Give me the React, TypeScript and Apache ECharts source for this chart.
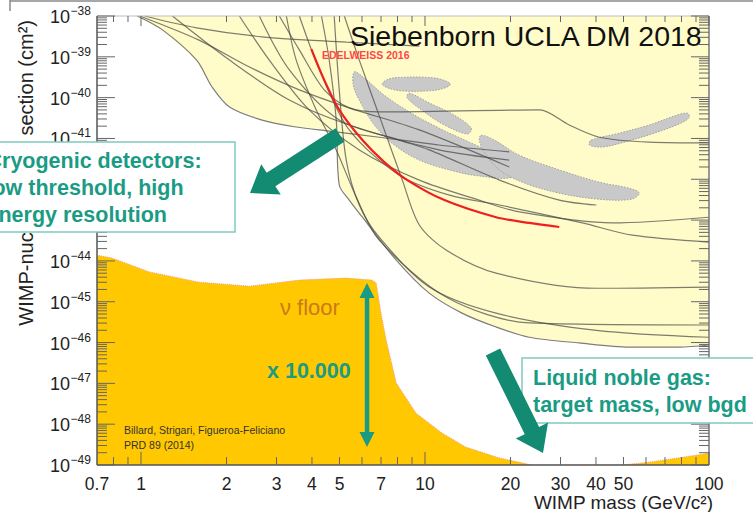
import React, { useEffect, useRef } from "react";
import * as echarts from "echarts";

const FONT = '"Liberation Sans", Arial, Helvetica, sans-serif';
const TEAL = "#1a9b84";
const TEAL_DARK = "#138a72";
const TEAL_BORDER = "#7fcabd";
const AXIS = "#555555";
const TEXT = "#222222";

// WIMP mass axis (GeV/c^2)
const massMin = 0.7;
const massMax = 100;
const massLabels = [0.7, 1, 2, 3, 4, 5, 7, 10, 20, 30, 40, 50, 100];
const massMajorTicks = [1, 10, 100];
const massMinorTicks = [0.8, 0.9, 2, 3, 4, 5, 6, 7, 8, 9, 20, 30, 40, 50, 60, 70, 80, 90];

// cross-section axis, decades of log10(sigma / cm^2)
const sigmaMinLog = -49;
const sigmaMaxLog = -38;
const sigmaDecades = [-49, -48, -47, -46, -45, -44, -43, -42, -41, -40, -39, -38];
const sigmaMinorMultipliers = [2, 3, 4, 5, 6, 7, 8, 9];

// points are [mass in GeV, log10 of cross section in cm^2]
const excludedEnvelope = [
  [0.97, -38.0], [1.19, -38.34], [1.57, -39.08], [1.78, -39.74], [2.05, -40.23],
  [2.67, -40.55], [3.52, -40.72], [4.35, -40.77], [4.87, -40.97], [4.99, -42.14],
  [5.41, -42.51], [6.02, -42.93], [6.9, -43.49], [7.92, -43.98], [10.4, -44.79],
  [13.5, -45.28], [17.8, -45.62], [23.3, -45.87], [34.9, -46.01], [52.4, -46.11],
  [78.6, -46.11], [100, -46.06],
];

const neutrinoFloor = [
  [0.7, -43.86], [0.79, -43.93], [1.07, -44.27], [1.6, -44.52], [2.41, -44.62],
  [3.61, -44.47], [5.27, -44.42], [6.5, -44.47], [6.73, -44.54], [7.0, -45.28],
  [7.3, -45.94], [7.92, -46.99], [9.3, -47.73], [11.5, -48.22], [13.9, -48.56],
  [18.3, -48.83], [23.8, -49.0], [47, -49.0], [49.3, -49.0],
  [61.7, -48.93], [81, -48.81], [100, -48.71],
];

const edelweiss2016 = [
  [3.98, -38.81], [4.42, -39.57], [4.99, -40.3], [6.02, -41.04], [7.19, -41.58],
  [8.66, -42.02], [11.7, -42.51], [17.8, -42.93], [23.3, -43.07], [29.7, -43.17],
];

const limitCurves = [
  [[1.03, -38.0], [1.57, -38.29], [2.67, -38.51], [5.28, -38.64], [9.55, -38.74]],
  [[0.97, -38.0], [1.19, -38.34], [1.57, -39.08], [1.78, -39.74], [2.05, -40.23], [2.67, -40.55],
   [3.52, -40.72], [4.6, -40.82], [6.9, -40.97], [11.2, -41.16], [19.8, -41.33]],
  [[0.99, -38.0], [1.6, -38.59], [2.41, -39.25], [3.61, -39.81], [5.41, -40.25], [9.55, -40.79], [19.8, -41.7]],
  [[3.07, -38.0], [3.61, -38.83], [4.42, -39.81], [5.41, -40.25], [6.9, -40.35], [25.3, -40.3],
   [32.2, -40.67], [41.1, -40.97], [61.6, -41.09], [100, -41.11]],
  [[3.25, -38.0], [3.52, -39.08], [4.14, -40.3], [4.87, -41.28], [5.73, -42.44], [6.9, -43.49],
   [11.9, -44.89], [23.3, -45.52], [100, -45.57]],
  [[4.32, -38.0], [4.6, -39.08], [4.87, -40.55], [4.99, -42.14], [5.41, -42.51], [6.02, -42.93],
   [7.92, -43.98], [10.35, -44.79], [13.5, -45.28], [17.8, -45.62], [23.3, -45.87], [34.9, -46.01],
   [52.4, -46.11], [78.6, -46.11], [100, -46.06]],
  [[4.79, -38.0], [4.99, -39.81], [5.28, -41.53], [5.87, -42.63], [6.9, -43.42], [10.35, -44.64],
   [17.8, -45.28], [40.1, -45.7], [100, -45.87]],
  [[5.2, -38.0], [5.87, -39.08], [7.19, -40.79], [8.32, -42.02], [9.55, -43.12], [11.9, -43.74],
   [17.8, -44.3], [40.1, -44.67], [100, -44.64]],
  [[3.61, -38.0], [4.25, -39.32], [5.41, -40.79], [8.12, -41.9], [12.2, -42.39], [18.3, -42.63],
   [35.8, -43.07], [53.7, -43.37], [100, -43.54]],
  [[2.22, -38.0], [2.83, -39.08], [3.91, -40.3], [5.87, -41.28], [9.55, -42.02], [15.5, -42.51],
   [21.5, -42.8], [45.7, -43.07], [100, -42.93]],
  [[2.61, -38.0], [3.33, -39.32], [4.99, -40.55], [8.12, -41.04], [10.35, -41.28], [18.3, -42.02],
   [29.7, -42.51], [40.1, -42.63]],
  [[1.29, -38.0], [2.05, -39.08], [3.33, -40.06], [5.41, -40.67], [11.2, -41.28], [19.8, -41.53]],
];

// closed contours of claimed signal regions
const signalRegions = [
  [[5.64, -39.37], [6.11, -39.52], [7.19, -39.94], [8.8, -40.35], [11.23, -40.75], [14.32, -41.09],
   [18.27, -41.43], [20.6, -41.65], [20.3, -41.95], [15.53, -41.92], [12.18, -41.77], [9.55, -41.53],
   [7.8, -41.16], [6.63, -40.67], [5.87, -40.06], [5.59, -39.69]],
  [[7.07, -39.67], [7.48, -39.54], [8.46, -39.5], [9.94, -39.5], [11.23, -39.54], [12.28, -39.67],
   [11.41, -39.79], [9.94, -39.84], [8.46, -39.84], [7.61, -39.79]],
  [[8.8, -39.89], [10.35, -40.13], [12.68, -40.43], [14.56, -40.75], [14.09, -40.89], [11.7, -40.67],
   [9.94, -40.35], [8.66, -40.01]],
  [[15.79, -40.92], [17.54, -41.04], [21.48, -41.41], [29.72, -41.77], [41.1, -42.07], [52.42, -42.22],
   [56.85, -42.34], [53.27, -42.49], [41.1, -42.49], [29.72, -42.34], [22.37, -42.09], [18.27, -41.77],
   [16.18, -41.33], [15.53, -41.04]],
  [[38.5, -41.04], [48.3, -40.87], [61.63, -40.67], [75.5, -40.45], [83.9, -40.38], [85.2, -40.48],
   [79.9, -40.62], [64.2, -40.87], [50.3, -41.09], [42.1, -41.21], [37.9, -41.16]],
];

function toSeriesData(list: number[][]) {
  return list.map(([m, e]) => [m, Math.pow(10, e)]);
}

function textStyle(text: string, size: number, color: string, align: string, weight = "normal") {
  return {
    text,
    fill: color,
    fontSize: size,
    fontFamily: FONT,
    fontWeight: weight,
    align,
    textAlign: align,
    verticalAlign: "middle",
    textVerticalAlign: "middle",
  };
}

function arrowPoints(tail: number[], tip: number[], shaftHalf: number, headHalf: number, headLen: number) {
  const dx = tip[0] - tail[0];
  const dy = tip[1] - tail[1];
  const len = Math.hypot(dx, dy);
  const ux = dx / len, uy = dy / len;
  const nx = -uy, ny = ux;
  const bx = tip[0] - ux * headLen, by = tip[1] - uy * headLen;
  return [
    [tail[0] + nx * shaftHalf, tail[1] + ny * shaftHalf],
    [bx + nx * shaftHalf, by + ny * shaftHalf],
    [bx + nx * headHalf, by + ny * headHalf],
    [tip[0], tip[1]],
    [bx - nx * headHalf, by - ny * headHalf],
    [bx - nx * shaftHalf, by - ny * shaftHalf],
    [tail[0] - nx * shaftHalf, tail[1] - ny * shaftHalf],
  ];
}

// filled region between a boundary curve and one edge of the plot (log10 sigma of that edge)
function filledRegionSeries(boundary: number[][], edgeLog: number, fill: string, z: number) {
  return {
    type: "custom",
    z,
    silent: true,
    data: [[boundary[0][0], Math.pow(10, boundary[0][1])]],
    renderItem: (_params: any, api: any) => {
      const first = boundary[0][0];
      const last = boundary[boundary.length - 1][0];
      const ring = [
        ...boundary,
        [last, edgeLog],
        [first, edgeLog],
      ];
      return {
        type: "polygon",
        shape: { points: ring.map(([m, e]) => api.coord([m, Math.pow(10, e)])) },
        style: { fill },
      };
    },
  };
}

export default function App() {
  const ref = useRef<HTMLDivElement>(null);

  useEffect(() => {
    const el = ref.current;
    if (!el) return;
    const chart = echarts.init(el, undefined, { renderer: "svg" });

    const axisDecor = {
      type: "custom",
      z: 6,
      silent: true,
      data: [[1, 1e-45]],
      renderItem: (params: any, api: any) => {
        const cs = params.coordSys;
        const left = cs.x, top = cs.y, right = cs.x + cs.width, bottom = cs.y + cs.height;
        const kids: any[] = [];
        const seg = (x1: number, y1: number, x2: number, y2: number, stroke = "#666", lw = 1) =>
          kids.push({ type: "line", shape: { x1, y1, x2, y2 }, style: { stroke, lineWidth: lw } });
        const label = (x: number, y: number, text: string, size: number, align: string) =>
          kids.push({ type: "text", x, y, style: textStyle(text, size, TEXT, align) });
        const xAt = (m: number) => api.coord([m, 1e-45])[0];
        const yAt = (s: number) => api.coord([1, s])[1];

        // frame
        seg(left, top, right, top, "#bdbdbd", 1);
        seg(right, top, right, bottom, "#777", 1.5);
        seg(left, top, left, bottom, AXIS, 1.5);
        seg(left, bottom, right, bottom, AXIS, 1.5);

        // mass axis ticks and labels
        for (const m of massMajorTicks) {
          const x = xAt(m);
          seg(x, bottom, x, bottom - 13);
          seg(x, top, x, top + 10);
        }
        for (const m of massMinorTicks) {
          const x = xAt(m);
          seg(x, bottom, x, bottom - 8);
          seg(x, top, x, top + 6);
        }
        for (const m of massLabels) label(xAt(m), bottom + 19, String(m), 17.5, "center");

        // cross-section axis ticks and labels
        sigmaDecades.forEach((e, i) => {
          const y = yAt(Math.pow(10, e));
          seg(left, y, left + 18, y);
          seg(right, y, right - 18, y);
          label(left - 27, y + 1, "10", 18, "right");
          label(left - 26.5, y - 5, "\u2212" + Math.abs(e), 12, "left");
          if (i < sigmaDecades.length - 1) {
            for (const k of sigmaMinorMultipliers) {
              const ym = yAt(k * Math.pow(10, e));
              seg(left, ym, left + 10, ym);
              seg(right, ym, right - 10, ym);
            }
          }
        });
        return { type: "group", children: kids };
      },
    };

    const regionsSeries = {
      type: "custom",
      z: 3,
      silent: true,
      data: signalRegions.map((r, i) => [r[0][0], Math.pow(10, r[0][1]), i]),
      renderItem: (_params: any, api: any) => {
        const region = signalRegions[api.value(2)];
        return {
          type: "polygon",
          shape: {
            points: region.map(([m, e]) => api.coord([m, Math.pow(10, e)])),
            smooth: 0.35,
          },
          style: { fill: "#c9c9c9", stroke: "#a0a0a0", lineWidth: 1, lineDash: [1.5, 1.5] },
        };
      },
    };

    const arrow1 = arrowPoints([340, 135], [250, 193], 8, 18, 25);
    const arrow2 = arrowPoints([493, 352], [543, 453], 8, 18, 25);

    const boxStyle = { fill: "#ffffff", stroke: TEAL_BORDER, lineWidth: 1.5 };

    const option: any = {
      animation: false,
      grid: { left: 97, top: 16, width: 612, height: 449, containLabel: false },
      xAxis: {
        type: "log",
        logBase: 10,
        min: massMin,
        max: massMax,
        axisLine: { show: false },
        axisTick: { show: false },
        axisLabel: { show: false },
        splitLine: { show: false },
      },
      yAxis: {
        type: "log",
        logBase: 10,
        min: Math.pow(10, sigmaMinLog),
        max: Math.pow(10, sigmaMaxLog),
        axisLine: { show: false },
        axisTick: { show: false },
        axisLabel: { show: false },
        splitLine: { show: false },
      },
      series: [
        filledRegionSeries(excludedEnvelope, sigmaMaxLog, "#fffcc9", 1),
        filledRegionSeries(neutrinoFloor, sigmaMinLog, "#ffc800", 2),
        {
          type: "line",
          name: "neutrino floor",
          data: toSeriesData(neutrinoFloor),
          symbol: "none",
          silent: true,
          lineStyle: { color: "#f2998c", width: 1, type: "dotted" },
          z: 2,
        },
        regionsSeries,
        ...limitCurves.map((c) => ({
          type: "line",
          data: toSeriesData(c),
          symbol: "none",
          silent: true,
          smooth: 0.3,
          lineStyle: { color: "rgba(70,70,70,0.7)", width: 1.2 },
          z: 4,
        })),
        {
          type: "line",
          name: "EDELWEISS 2016",
          data: toSeriesData(edelweiss2016),
          symbol: "none",
          silent: true,
          smooth: 0.3,
          lineStyle: { color: "#f01e1e", width: 2.2 },
          z: 5,
        },
        axisDecor,
      ],
      graphic: [
        { type: "line", z: 50, shape: { x1: 10, y1: 1, x2: 753, y2: 1 }, style: { stroke: "#8a8a8a", lineWidth: 1.5 } },
        { type: "line", z: 50, shape: { x1: 10, y1: 0, x2: 10, y2: 11 }, style: { stroke: "#8a8a8a", lineWidth: 1.5 } },
        { type: "text", z: 50, x: 350, y: 36, style: textStyle("Siebenborn UCLA DM 2018", 28.5, "#111111", "left") },
        { type: "text", z: 50, x: 322, y: 55, style: textStyle("EDELWEISS 2016", 10.5, "#ff4646", "left", "bold") },

        { type: "rect", z: 50, shape: { x: -3, y: 142, width: 238, height: 90 }, style: boxStyle },
        { type: "text", z: 51, x: -13.5, y: 160.5, style: textStyle("Cryogenic detectors:", 21.5, TEAL, "left", "bold") },
        { type: "text", z: 51, x: -13.5, y: 187.5, style: textStyle("low threshold, high", 21.5, TEAL, "left", "bold") },
        { type: "text", z: 51, x: -13.5, y: 214.5, style: textStyle("energy resolution", 21.5, TEAL, "left", "bold") },
        { type: "polygon", z: 52, shape: { points: arrow1 }, style: { fill: TEAL_DARK } },

        { type: "rect", z: 50, shape: { x: 522, y: 358, width: 240, height: 65 }, style: boxStyle },
        { type: "text", z: 51, x: 533, y: 377.5, style: textStyle("Liquid noble gas:", 21.5, TEAL, "left", "bold") },
        { type: "text", z: 51, x: 533, y: 404.5, style: textStyle("target mass, low bgd", 21.5, TEAL, "left", "bold") },
        { type: "polygon", z: 52, shape: { points: arrow2 }, style: { fill: TEAL_DARK } },

        { type: "rect", z: 50, shape: { x: 364.8, y: 296, width: 4.5, height: 138 }, style: { fill: TEAL } },
        { type: "polygon", z: 50, shape: { points: [[367, 283], [374.5, 298], [359.5, 298]] }, style: { fill: TEAL } },
        { type: "polygon", z: 50, shape: { points: [[367, 447], [374.5, 432], [359.5, 432]] }, style: { fill: TEAL } },
        { type: "text", z: 50, x: 280, y: 307, style: textStyle("\u03bd floor", 22, "#c97b1a", "left") },
        { type: "text", z: 50, x: 267, y: 371, style: textStyle("x 10.000", 21.5, TEAL, "left", "bold") },
        { type: "text", z: 50, x: 124, y: 430, style: textStyle("Billard, Strigari, Figueroa-Feliciano", 10.5, "#333333", "left") },
        { type: "text", z: 50, x: 124, y: 445, style: textStyle("PRD 89 (2014)", 10.5, "#333333", "left") },

        {
          type: "text", z: 40, x: 26, y: 20, rotation: Math.PI / 2,
          style: textStyle("WIMP-nucleon cross section (cm\u00b2)", 20, TEXT, "right"),
        },
        { type: "text", z: 50, x: 713, y: 502, style: textStyle("WIMP mass (GeV/c\u00b2)", 19, TEXT, "right") },
      ],
    };

    chart.setOption(option);
    return () => chart.dispose();
  }, []);

  return (
    <div
      ref={ref}
      style={{ position: "absolute", left: 0, top: 0, width: 753, height: 512, background: "#ffffff" }}
    />
  );
}
